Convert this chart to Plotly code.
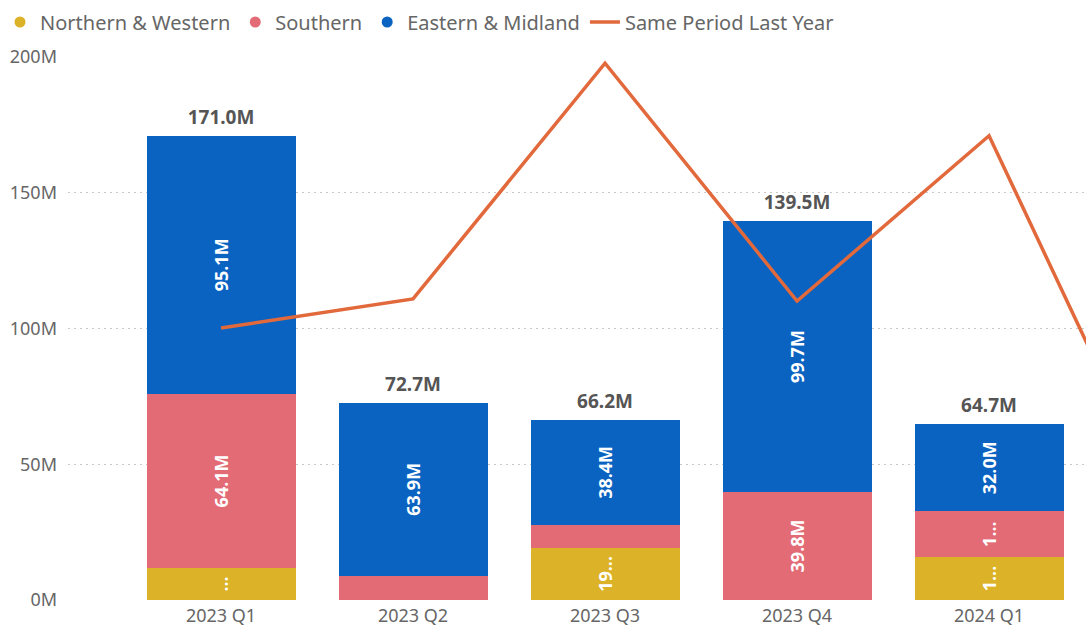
import plotly.graph_objects as go

# Quarterly revenue by region (millions) with prior-year comparison line
quarters = ["2023 Q1", "2023 Q2", "2023 Q3", "2023 Q4", "2024 Q1", "2024 Q2"]
northern_western = [11.8, 0.0, 19.2, 0.0, 15.8]
southern = [64.1, 8.8, 8.6, 39.8, 16.9]
eastern_midland = [95.1, 63.9, 38.4, 99.7, 32.0]
same_period_last_year = [100.2, 110.9, 197.7, 110.1, 171.0, 21.0]

y_tick_vals = [0, 50, 100, 150, 200]
y_tick_text = ["0M", "50M", "100M", "150M", "200M"]

COL_NW = "#DBB228"
COL_S = "#E36B76"
COL_EM = "#0A63C1"
COL_LINE = "#E2693B"
FONT = "Noto Sans"

W, H = 1086, 628
M_L, M_R, M_T, M_B = 68, 0, 57, 28
Y_MAX = 200
PX_PER_M = (H - M_T - M_B) / Y_MAX


def fit_label(value):
    """Shorten a segment label the way it would be clipped inside a short bar."""
    full = f"{value:.1f}M"
    px = value * PX_PER_M
    n = int((px - 24) // 13)
    if px < 24:
        return ""
    if n >= 3:
        return full
    return full[:n] + "..."


bar_cats = quarters[:len(eastern_midland)]
totals = [a + b + c for a, b, c in zip(northern_western, southern, eastern_midland)]

fig = go.Figure()

inside_font = dict(family=FONT, size=18, color="white", weight="bold")
for name, vals, col in [
    ("Northern & Western", northern_western, COL_NW),
    ("Southern", southern, COL_S),
    ("Eastern & Midland", eastern_midland, COL_EM),
]:
    fig.add_trace(go.Bar(
        x=bar_cats, y=vals, name=name, marker=dict(color=col, line=dict(width=0)),
        text=[fit_label(v) for v in vals], texttemplate="%{text}",
        textposition="inside", insidetextanchor="middle", textangle=-90,
        textfont=inside_font, constraintext="none",
        showlegend=False, width=0.776,
    ))
    # circle swatch for the legend
    fig.add_trace(go.Scatter(
        x=[None], y=[None], mode="markers", name=name,
        marker=dict(color=col, size=11, symbol="circle"),
    ))

fig.add_trace(go.Scatter(
    x=quarters, y=same_period_last_year, mode="lines", name="Same Period Last Year",
    line=dict(color=COL_LINE, width=3.5),
))

# stack totals above each bar (invisible marker sets the gap above the bar)
fig.add_trace(go.Scatter(
    x=bar_cats, y=totals, mode="markers+text", text=[f"{t:.1f}M" for t in totals],
    textposition="top center", showlegend=False, hoverinfo="skip",
    marker=dict(size=10, opacity=0),
    textfont=dict(family=FONT, size=19, color="#555555", weight="bold"),
    cliponaxis=False,
))

fig.update_layout(
    width=W, height=H,
    margin=dict(l=M_L, r=M_R, t=M_T, b=M_B),
    plot_bgcolor="white", paper_bgcolor="white",
    barmode="stack", bargap=0.224,
    font=dict(family=FONT, color="#666666"),
    legend=dict(
        orientation="h", x=-0.008, xref="container", y=0.996, yref="container",
        yanchor="top", xanchor="left",
        font=dict(family=FONT, size=20, color="#666666"),
        itemwidth=30, tracegroupgap=0, traceorder="normal",
    ),
    xaxis=dict(
        type="category", categoryorder="array", categoryarray=quarters,
        range=[-0.797, 4.505], showgrid=False, zeroline=False, showline=False,
        tickfont=dict(family=FONT, size=18, color="#666666"), ticks="",
        ticklabelstandoff=3, automargin=False,
    ),
    yaxis=dict(
        range=[0, Y_MAX], tickvals=y_tick_vals, ticktext=y_tick_text,
        showgrid=True, gridcolor="#C8C8C8", gridwidth=1, griddash="2px,4px",
        zeroline=False, showline=False, automargin=False,
        tickfont=dict(family=FONT, size=18, color="#666666"), ticks="",
        ticklabelstandoff=10,
    ),
)

fig.write_html("out.html")
